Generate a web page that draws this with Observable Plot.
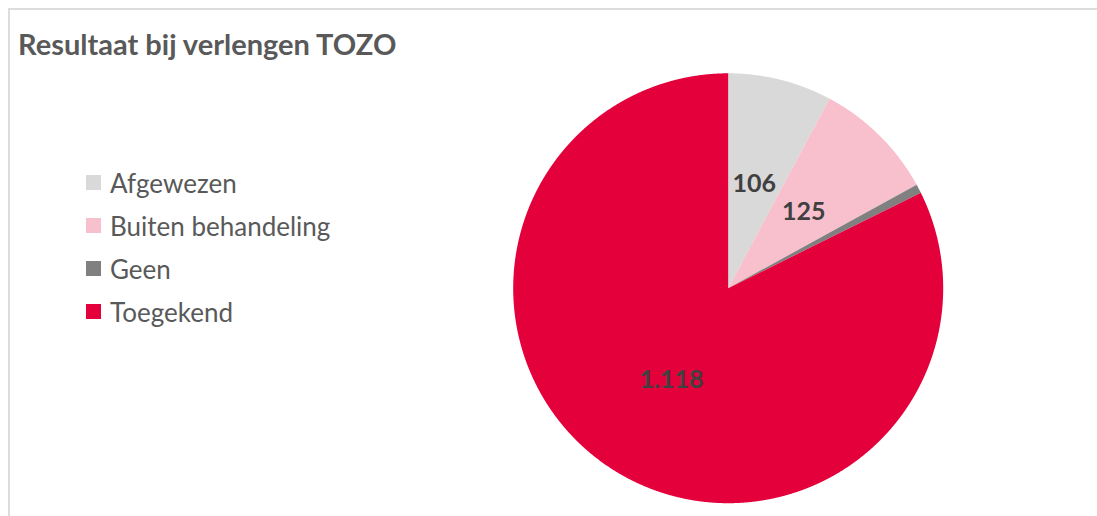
<!DOCTYPE html>
<html>
<head>
<meta charset="utf-8">
<script src="https://cdn.jsdelivr.net/npm/d3@7"></script>
<script src="https://cdn.jsdelivr.net/npm/@observablehq/plot@0.6"></script>
<style>
  html, body { margin: 0; padding: 0; background: #fff; }
  #wrap { position: relative; width: 1097px; height: 516px; overflow: hidden; font-family: Lato, "Open Sans", sans-serif; }
  #frame { position: absolute; left: 8px; top: 8px; right: -2px; bottom: -2px; border-top: 2px solid #dcdcdc; border-left: 2px solid #dcdcdc; }
  #chart { position: absolute; left: 0; top: 0; }
  #title { position: absolute; left: 18px; top: 29px; font-size: 29px; line-height: 1; font-weight: bold; color: #595959; white-space: nowrap; }
  #legend { position: absolute; left: 86px; top: 161px; }
  .item { display: flex; align-items: center; height: 43px; font-size: 26px; color: #595959; white-space: nowrap; }
  .sw { width: 15px; height: 15px; margin-right: 9px; }
</style>
</head>
<body>
<div id="wrap">
  <div id="frame"></div>
  <div id="chart"></div>
  <div id="title"></div>
  <div id="legend"></div>
</div>
<script>
const title = "Resultaat bij verlengen TOZO";
const categories = ["Afgewezen", "Buiten behandeling", "Geen", "Toegekend"];
const values = [106, 125, 9, 1118];
const labels = ["106", "125", "", "1.118"];
const colors = ["#d9d9d9", "#f8bfcd", "#808080", "#e4003a"];

const data = categories.map((c, i) => ({category: c, value: values[i], label: labels[i]}));
const arcs = d3.pie().sort(null).value(d => d.value)(data);

// polygon points for each slice (unit circle, angle 0 at 12 o'clock, clockwise)
const pts = [];
for (const a of arcs) {
  const c = a.data.category;
  pts.push({category: c, x: 0, y: 0});
  const n = Math.max(2, Math.ceil((a.endAngle - a.startAngle) / 0.002));
  for (let k = 0; k <= n; k++) {
    const t = a.startAngle + (a.endAngle - a.startAngle) * k / n;
    pts.push({category: c, x: Math.sin(t), y: Math.cos(t)});
  }
  pts.push({category: c, x: 0, y: 0});
}
const labelPts = arcs.filter(a => a.data.label).map(a => {
  const m = (a.startAngle + a.endAngle) / 2;
  return {label: a.data.label, x: 0.5 * Math.sin(m), y: 0.5 * Math.cos(m)};
});

const chart = Plot.plot({
  width: 1097,
  height: 516,
  marginLeft: 512.7,
  marginRight: 154.3,
  marginTop: 72.8,
  marginBottom: 13.3,
  x: {domain: [-1, 1], axis: null},
  y: {domain: [-1, 1], axis: null},
  color: {domain: categories, range: colors},
  style: {background: "transparent", overflow: "visible"},
  marks: [
    Plot.line(pts, {x: "x", y: "y", z: "category", fill: "category", stroke: null, curve: "linear"}),
    Plot.text(labelPts, {x: "x", y: "y", text: "label", fill: "#404040", fontSize: 25, fontWeight: "bold", fontFamily: "Lato, 'Open Sans', sans-serif"})
  ]
});
document.getElementById("chart").appendChild(chart);
document.getElementById("title").textContent = title;

const legend = document.getElementById("legend");
categories.forEach((c, i) => {
  const it = document.createElement("div");
  it.className = "item";
  const sw = document.createElement("div");
  sw.className = "sw";
  sw.style.background = colors[i];
  const tx = document.createElement("span");
  tx.textContent = c;
  it.appendChild(sw);
  it.appendChild(tx);
  legend.appendChild(it);
});
</script>
</body>
</html>
